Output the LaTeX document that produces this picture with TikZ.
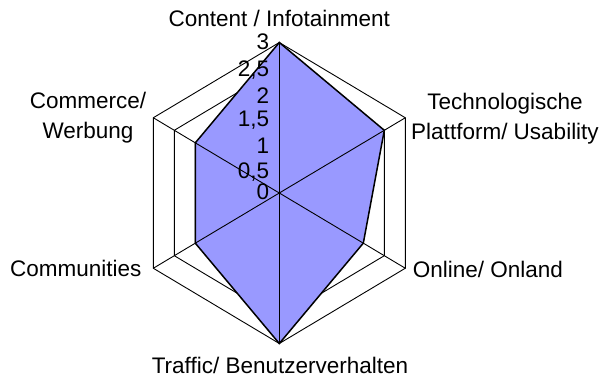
\documentclass[tikz,border=0pt]{standalone}
\usepackage{fontspec}
\setmainfont{Liberation Sans}
\usetikzlibrary{calc}
\definecolor{areafill}{HTML}{9999FF}
\begin{document}
\begin{tikzpicture}[x=1pt,y=-1pt,
  gridline/.style={draw=black,line width=0.9pt,line join=miter},
  spoke/.style={draw=black,line width=0.9pt},
  series/.style={fill=areafill,draw=black,line width=1.5pt,line join=miter},
  catlabel/.style={font=\fontsize{22.5}{30}\selectfont,inner sep=0pt,align=center},
  ticklabel/.style={font=\fontsize{22.5}{26}\selectfont,inner sep=0pt,anchor=base east}]
\useasboundingbox (0,0) rectangle (604,377);
% chart centre and one unit along each of the six axes
\coordinate (C) at (279.3,193);
\coordinate (d1) at (0,-50.17);
\coordinate (d2) at (42,-25.08);
\coordinate (d3) at (42,25.08);
\coordinate (d4) at (0,50.17);
\coordinate (d5) at (-42,25.08);
\coordinate (d6) at (-42,-25.08);
% hexagonal gridlines every 0.5
\foreach \r in {0.5,1.0,1.5,2.0,2.5,3.0}
  \draw[gridline] ($(C)+\r*(d1)$) -- ($(C)+\r*(d2)$) -- ($(C)+\r*(d3)$)
    -- ($(C)+\r*(d4)$) -- ($(C)+\r*(d5)$) -- ($(C)+\r*(d6)$) -- cycle;
% data series: 3 / 2.5 / 2 / 3 / 2 / 2
\coordinate (p1) at ($(C)+3*(d1)$);
\coordinate (p2) at ($(C)+2.5*(d2)$);
\coordinate (p3) at ($(C)+2*(d3)$);
\coordinate (p4) at ($(C)+3*(d4)$);
\coordinate (p5) at ($(C)+2*(d5)$);
\coordinate (p6) at ($(C)+2*(d6)$);
\draw[series] (p1) -- (p2) -- (p3) -- (p4) -- (p5) -- (p6) -- cycle;
% axes
\foreach \i in {1,...,6}
  \draw[spoke] (C) -- ($(C)+3*(d\i)$);
% value axis labels
\node[ticklabel] (t30) at (269.3,50.0) {3};
\node[ticklabel] (t25) at (269.3,76.7) {2,5};
\node[ticklabel] (t20) at (269.3,103.3) {2};
\node[ticklabel] (t15) at (269.3,126.7) {1,5};
\node[ticklabel] (t10) at (269.3,153.3) {1};
\node[ticklabel] (t05) at (269.3,178.3) {0,5};
\node[ticklabel] (t00) at (269.3,199.6) {0};
% category labels
\node[catlabel,anchor=base] (c1) at (279.3,26.7) {Content / Infotainment};
\node[catlabel,anchor=north] (c2) at (505,93) {Technologische\\Plattform/ Usability};
\node[catlabel,anchor=base west] (c3) at (412.7,277) {Online/ Onland};
\node[catlabel,anchor=base] (c4) at (280,373.3) {Traffic/ Benutzerverhalten};
\node[catlabel,anchor=base east] (c5) at (141.7,276.9) {Communities};
\node[catlabel,anchor=north] (c6) at (88,92.2) {Commerce/\\Werbung};
\end{tikzpicture}
\end{document}
